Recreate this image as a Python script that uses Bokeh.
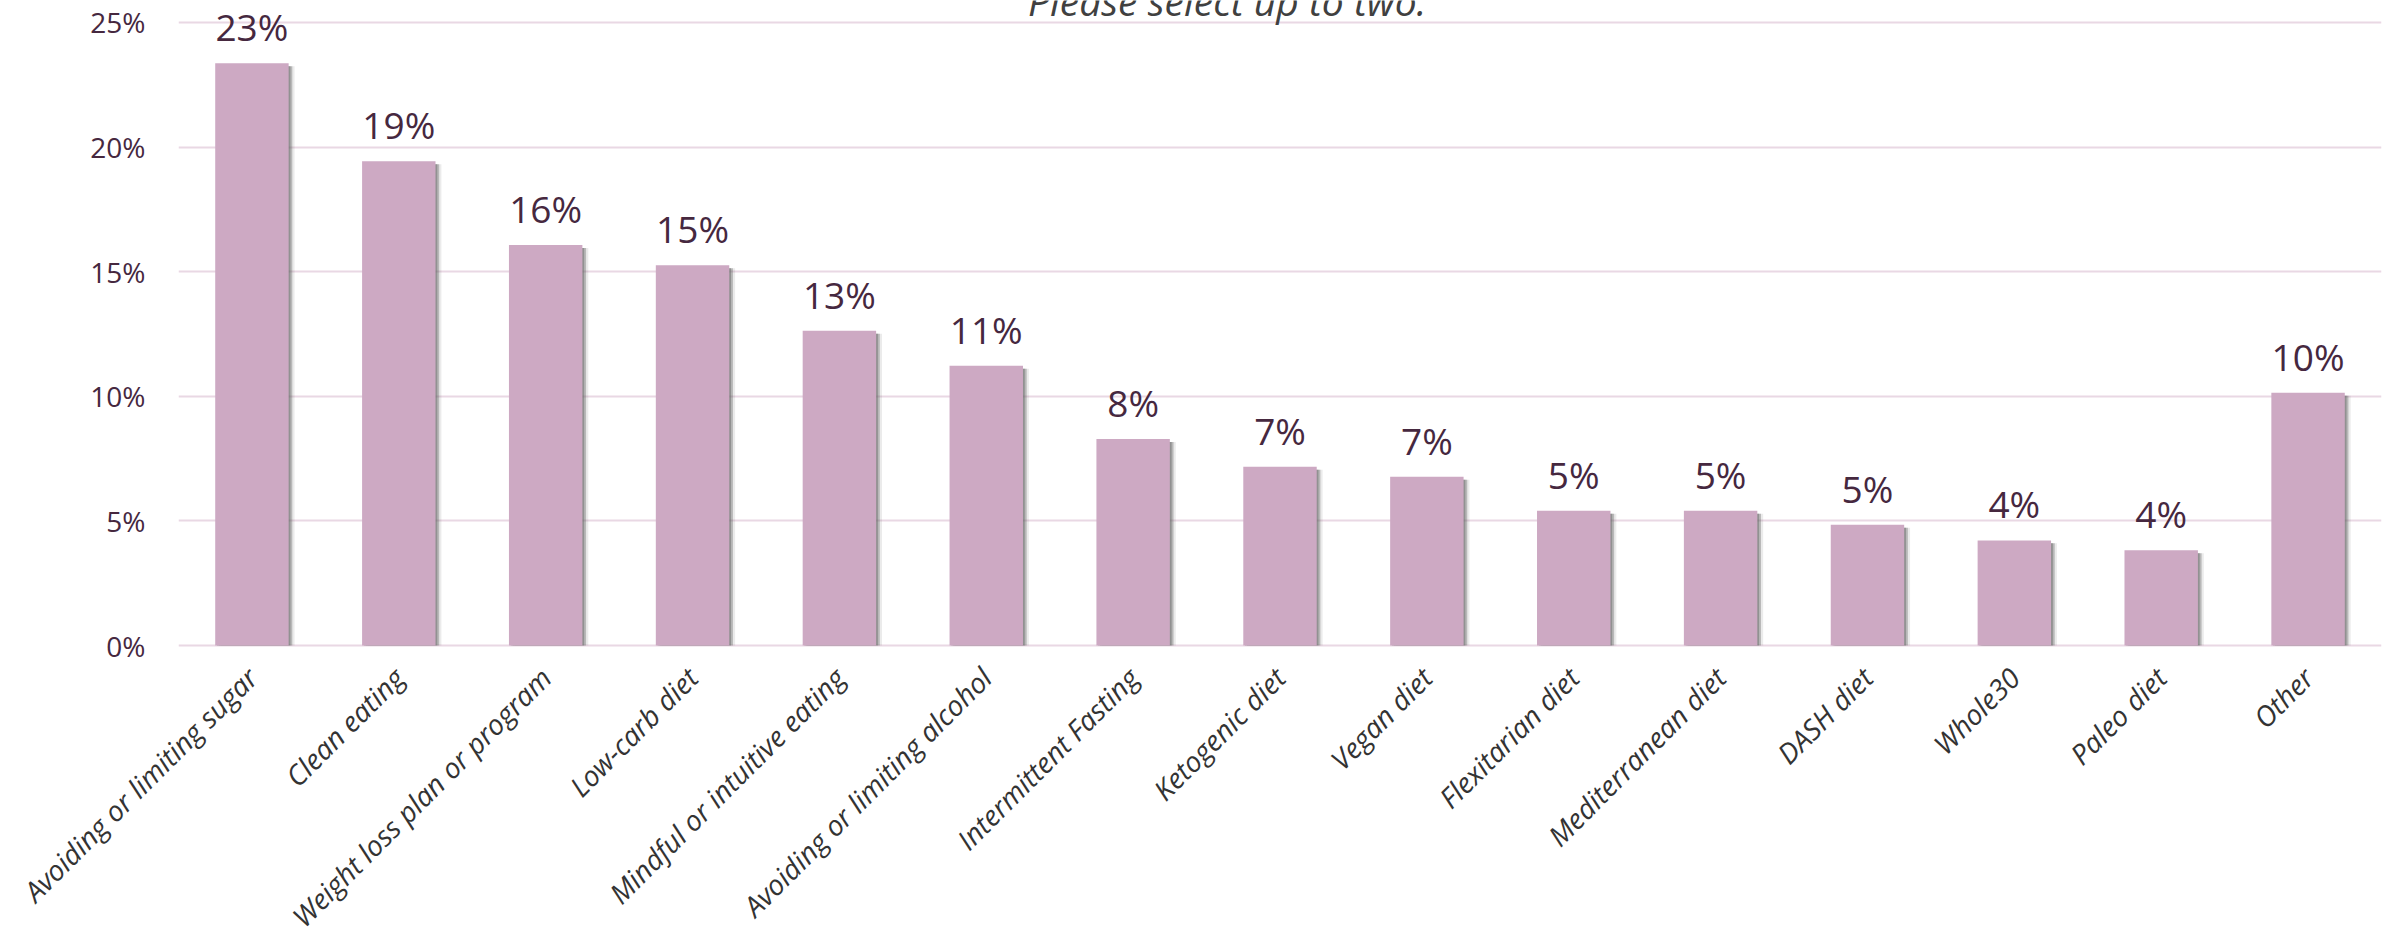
import math
from bokeh.plotting import figure
from bokeh.models import (ColumnDataSource, FactorRange, Range1d, LabelSet, Label,
                          FixedTicker, PrintfTickFormatter)
from bokeh.core.properties import value
from bokeh.transform import dodge
from bokeh.embed import file_html
from bokeh.resources import INLINE

categories = ["Avoiding or limiting sugar", "Clean eating", "Weight loss plan or program",
              "Low-carb diet", "Mindful or intuitive eating", "Avoiding or limiting alcohol",
              "Intermittent Fasting", "Ketogenic diet", "Vegan diet", "Flexitarian diet",
              "Mediterranean diet", "DASH diet", "Whole30", "Paleo diet", "Other"]
values = [23.36, 19.43, 16.07, 15.26, 12.63, 11.23, 8.29, 7.17, 6.77, 5.41, 5.41, 4.85, 4.22, 3.82, 10.14]
y_ticks = [0, 5, 10, 15, 20, 25]
title_text = "Please select up to two."

labels = [f"{round(v)}%" for v in values]
src = ColumnDataSource(dict(cat=categories, val=values, lab=labels,
                            shadow=[max(v - 0.12, 0) for v in values]))

p = figure(width=2390, height=951, x_range=FactorRange(*categories, range_padding=0),
           y_range=Range1d(-0.88, 25.88), output_backend="svg", toolbar_location=None,
           min_border_left=178, min_border_right=9, min_border_top=0, min_border_bottom=0)
p.outline_line_color = None
p.background_fill_color = "white"

# shadow
p.vbar(x=dodge("cat", 0.04, range=p.x_range), top="shadow", bottom=0, width=0.5, source=src,
       fill_color="#5a5a5a", fill_alpha=0.12, line_color=None)
p.vbar(x=dodge("cat", 0.025, range=p.x_range), top="shadow", bottom=0, width=0.5, source=src,
       fill_color="#5a5a5a", fill_alpha=0.35, line_color=None)
p.vbar(x=dodge("cat", 0.012, range=p.x_range), top="shadow", bottom=0, width=0.5, source=src,
       fill_color="#6a6a6a", fill_alpha=0.5, line_color=None)
p.vbar(x="cat", top="val", bottom=0, width=0.5, source=src, fill_color="#cda9c3", line_color=None)

p.add_layout(LabelSet(x="cat", y="val", text="lab", source=src, text_align="center",
                      text_baseline="alphabetic", y_offset=22, text_font=value("Open Sans"),
                      text_font_size=value("37px"), text_color=value("#46283f")))

p.add_layout(Label(x=7.14, y=25.9, text=title_text, text_align="center",
                   text_baseline="alphabetic", text_font="Open Sans", text_font_style="italic",
                   text_font_size="39px", text_color="#404040"))

p.xgrid.grid_line_color = None
p.ygrid.grid_line_color = "#e9d8e4"
p.ygrid.grid_line_width = 2
p.yaxis.ticker = FixedTicker(ticks=y_ticks)
p.yaxis.formatter = PrintfTickFormatter(format="%d%%")
p.yaxis.axis_line_color = None
p.yaxis.major_tick_line_color = None
p.yaxis.minor_tick_line_color = None
p.yaxis.major_tick_out = 0
p.yaxis.major_label_standoff = 33
p.yaxis.major_label_text_font = "Open Sans"
p.yaxis.major_label_text_font_size = "28px"
p.yaxis.major_label_text_color = "#46283f"

p.xaxis.axis_line_color = None
p.xaxis.major_tick_line_color = None
p.xaxis.major_tick_out = 0
p.xaxis.major_label_orientation = math.pi / 4
p.xaxis.major_label_standoff = 5
p.xaxis.major_label_text_font = "Open Sans"
p.xaxis.major_label_text_font_style = "italic"
p.xaxis.major_label_text_font_size = "28px"
p.xaxis.major_label_text_color = "#333333"

open("out.html", "w").write(file_html(p, INLINE))
